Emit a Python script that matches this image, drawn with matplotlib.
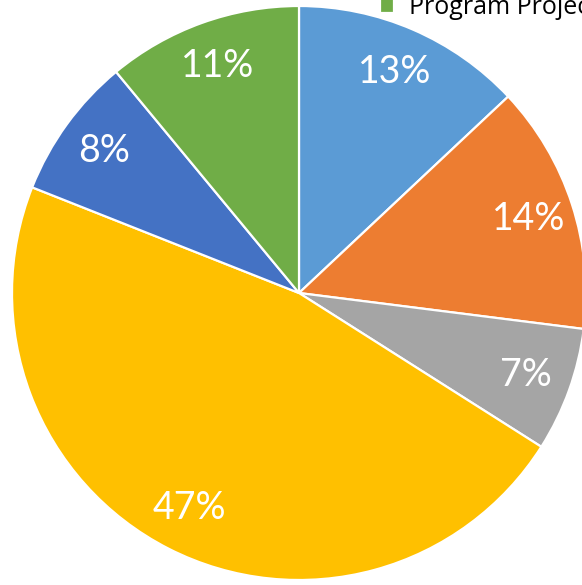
import matplotlib.pyplot as plt

# fatias no sentido horário a partir do topo
categorias = ["Categoria A", "Categoria B", "Categoria C", "Categoria D", "Categoria E", "Program Projects"]
valores = [13, 14, 7, 47, 8, 11]
cores = ["#5B9BD5", "#ED7D31", "#A5A5A5", "#FFC000", "#4472C4", "#70AD47"]

W, H = 582, 585
cx, cy, r = 299, 293, 287

fig = plt.figure(figsize=(W / 100, H / 100), dpi=100)
ax = fig.add_axes([0, 0, 1, 1])

fatias, textos, autotextos = ax.pie(
    valores, colors=cores, startangle=90, counterclock=False, radius=1,
    autopct="%1.0f%%", pctdistance=0.84,
    wedgeprops=dict(edgecolor="white", linewidth=1.6),
    textprops=dict(color="white", fontsize=27, family=["Lato", "DejaVu Sans"]),
)

# o pie mexe nos limites, então define depois
ax.set_xlim(-cx / r, (W - cx) / r)
ax.set_ylim(-(H - cy) / r, cy / r)
ax.set_aspect("equal")
ax.axis("off")

ax.legend([fatias[-1]], [categorias[-1]], loc="upper left",
          bbox_to_anchor=(380 / W, 1 + 5 / H), frameon=False,
          prop=dict(family=["Open Sans", "DejaVu Sans"], size=18),
          handlelength=0.55, handleheight=0.55, handletextpad=0.6,
          borderaxespad=0, borderpad=0, labelcolor="black")

fig.savefig("out.png", dpi=100)
